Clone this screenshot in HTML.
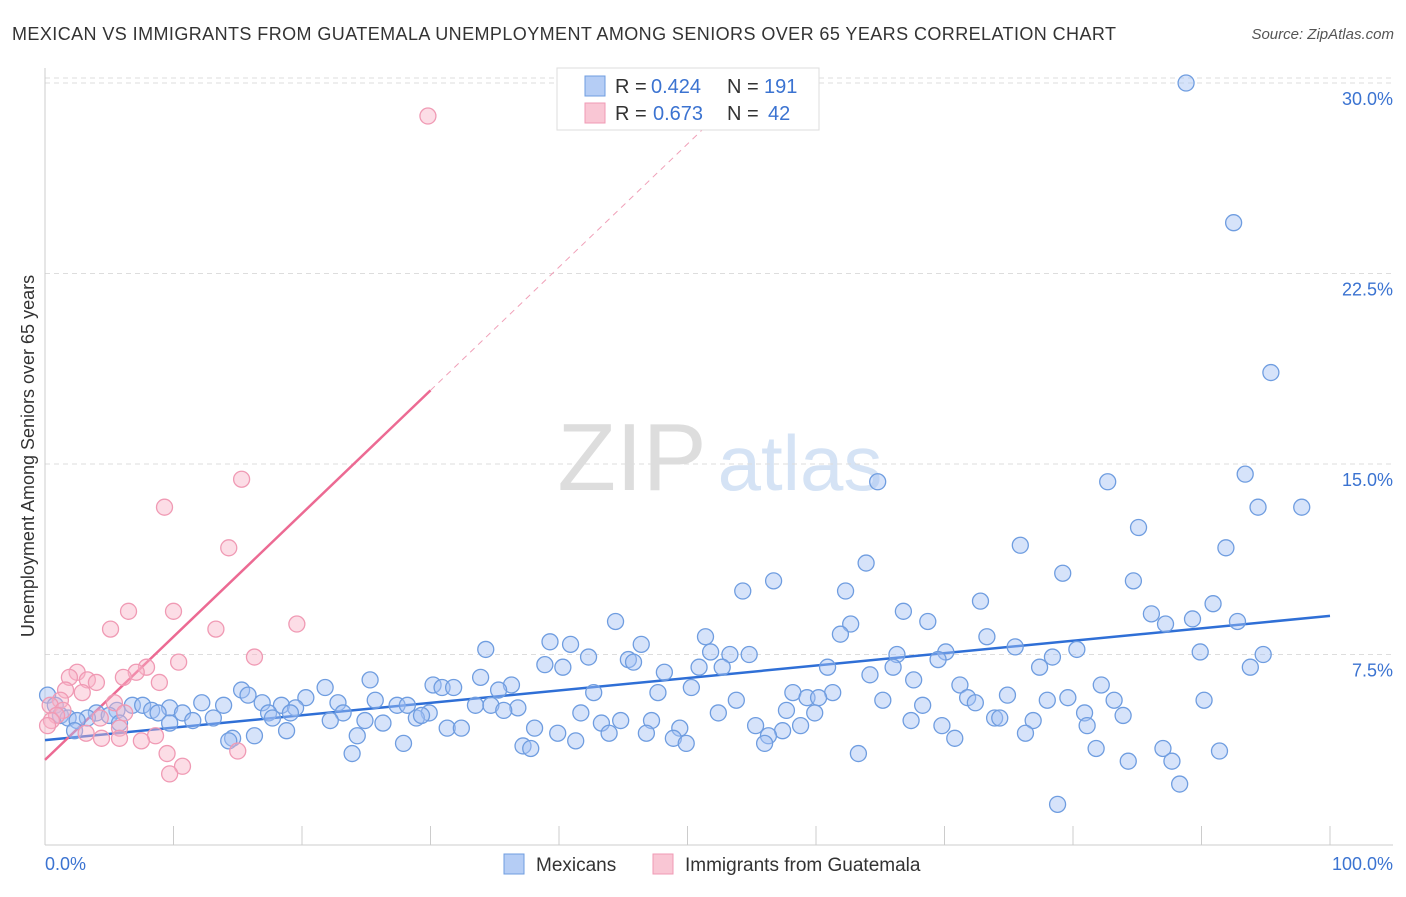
<!DOCTYPE html>
<html><head><meta charset="utf-8"><style>
body{margin:0;background:#fff;font-family:"Liberation Sans",sans-serif}
svg text{font-family:"Liberation Sans",sans-serif}
</style></head><body>
<svg id="chart" width="1406" height="892" xmlns="http://www.w3.org/2000/svg">
<text x="12" y="40" font-size="18" fill="#333" textLength="1104">MEXICAN VS IMMIGRANTS FROM GUATEMALA UNEMPLOYMENT AMONG SENIORS OVER 65 YEARS CORRELATION CHART</text>
<text x="1394" y="39" font-size="15" fill="#555" font-style="italic" text-anchor="end">Source: ZipAtlas.com</text>
<g>
<text x="632" y="490" font-size="96" fill="#ddd" font-family="Liberation Serif" text-anchor="middle">ZIP</text>
<text x="800" y="490" font-size="78" fill="#d5e3f5" text-anchor="middle">atlas</text>
</g>
<g id="grid"></g>
<g id="axes"></g>
<g id="lines"></g>
<g id="pts"></g>
<text transform="translate(34,456) rotate(-90)" font-size="18" fill="#333" text-anchor="middle">Unemployment Among Seniors over 65 years</text>
<g>
<rect x="557" y="68" width="262" height="62" fill="#fff" stroke="#ddd"/>
<rect x="585" y="76" width="20" height="20" fill="#b5cdf5" stroke="#6f9de0"/>
<rect x="585" y="103" width="20" height="20" fill="#f9c6d4" stroke="#f09ab4"/>
<text x="615" y="93" font-size="20" fill="#333">R = <tspan x="651" fill="#3b73d1">0.424</tspan><tspan x="727">N = </tspan><tspan x="764" fill="#3b73d1">191</tspan></text>
<text x="615" y="120" font-size="20" fill="#333">R = <tspan x="653" fill="#3b73d1">0.673</tspan><tspan x="727">N = </tspan><tspan x="768" fill="#3b73d1">42</tspan></text>
</g>
<g>
<rect x="504" y="854" width="20" height="20" fill="#b5cdf5" stroke="#6f9de0"/>
<text x="536" y="871" font-size="19" fill="#333">Mexicans</text>
<rect x="653" y="854" width="20" height="20" fill="#f9c6d4" stroke="#f09ab4"/>
<text x="685" y="871" font-size="19" fill="#333">Immigrants from Guatemala</text>
</g>
</svg>
<script>
const yTicks=[7.5,15,22.5,30];
const yTickLabels=["7.5%","15.0%","22.5%","30.0%"];
const xTicks=[0,10,20,30,40,50,60,70,80,90,100];
const blueX=[88.8,92.5,95.4,93.4,94.4,97.8,64.8,82.7,85.1,75.9,91.9,63.9,79.2,56.7,84.7,54.3,62.3,72.8,90.9,66.8,86.1,89.3,87.2,92.8,68.7,44.4,62.7,61.9,51.4,73.3,39.3,40.9,46.4,75.5,34.3,80.3,89.9,94.8,51.8,53.3,54.8,66.3,70.1,78.4,42.3,45.4,45.8,69.5,93.8,77.4,50.9,38.9,40.3,48.2,60.9,66.0,52.7,64.2,33.9,25.3,67.6,82.2,71.2,21.8,30.2,30.9,31.8,36.3,35.3,50.3,47.7,15.3,15.8,42.7,58.2,61.3,59.3,60.2,71.8,74.9,79.6,20.3,83.2,90.2,78.0,65.2,72.4,53.8,25.7,0.2,16.9,12.2,13.9,18.4,19.5,22.8,27.4,28.2,33.5,34.7,36.8,68.3,6.8,7.6,8.3,9.7,10.7,5.6,4.0,5.0,0.8,1.2,1.8,3.3,8.8,17.4,19.1,23.2,29.9,35.7,41.7,52.4,57.7,59.9,80.9,83.9,17.7,11.5,13.1,9.7,2.5,28.9,29.3,22.2,24.9,26.3,73.9,74.3,76.9,67.4,47.2,43.3,44.8,69.8,81.1,55.3,57.4,58.8,49.4,38.1,31.3,32.4,5.8,2.3,18.8,39.9,46.8,24.3,76.3,43.9,56.3,70.8,16.3,14.6,14.3,48.9,41.3,27.9,49.9,56.0,37.2,37.8,87.0,91.4,81.8,23.9,63.3,87.7,84.3,88.3,78.8];
const blueY=[30.0,24.5,18.6,14.6,13.3,13.3,14.3,14.3,12.5,11.8,11.7,11.1,10.7,10.4,10.4,10.0,10.0,9.6,9.5,9.2,9.1,8.9,8.7,8.8,8.8,8.8,8.7,8.3,8.2,8.2,8.0,7.9,7.9,7.8,7.7,7.7,7.6,7.5,7.6,7.5,7.5,7.5,7.6,7.4,7.4,7.3,7.2,7.3,7.0,7.0,7.0,7.1,7.0,6.8,7.0,7.0,7.0,6.7,6.6,6.5,6.5,6.3,6.3,6.2,6.3,6.2,6.2,6.3,6.1,6.2,6.0,6.1,5.9,6.0,6.0,6.0,5.8,5.8,5.8,5.9,5.8,5.8,5.7,5.7,5.7,5.7,5.6,5.7,5.7,5.9,5.6,5.6,5.5,5.5,5.4,5.6,5.5,5.5,5.5,5.5,5.4,5.5,5.5,5.5,5.3,5.4,5.2,5.3,5.2,5.1,5.5,5.1,5.0,5.0,5.2,5.2,5.2,5.2,5.2,5.3,5.2,5.2,5.3,5.2,5.2,5.1,5.0,4.9,5.0,4.8,4.9,5.0,5.1,4.9,4.9,4.8,5.0,5.0,4.9,4.9,4.9,4.8,4.9,4.7,4.7,4.7,4.5,4.7,4.6,4.6,4.6,4.6,4.8,4.5,4.5,4.4,4.4,4.3,4.4,4.4,4.3,4.2,4.3,4.2,4.1,4.2,4.1,4.0,4.0,4.0,3.9,3.8,3.8,3.7,3.8,3.6,3.6,3.3,3.3,2.4,1.6];
const pinkX=[29.8,15.3,9.3,14.3,6.5,10.0,5.1,13.3,19.6,16.3,10.4,7.9,2.5,7.1,1.9,3.3,4.0,6.1,8.9,1.6,2.9,1.2,5.4,0.4,1.4,0.9,0.5,6.2,4.3,5.8,3.2,4.4,5.8,8.6,7.5,9.5,15.0,10.7,9.7,0.2];
const pinkY=[28.7,14.4,13.3,11.7,9.2,9.2,8.5,8.5,8.7,7.4,7.2,7.0,6.8,6.8,6.6,6.5,6.4,6.6,6.4,6.1,6.0,5.7,5.6,5.5,5.3,5.1,4.9,5.2,5.0,4.6,4.4,4.2,4.2,4.3,4.1,3.6,3.7,3.1,2.8,4.7];
const blueTrend=[4.13,9.02];
const pinkTrend=[3.35,17.9];
const NS="http://www.w3.org/2000/svg";
const X0=45,X1=1330,Y0=845,YPX=25.4;
function sx(v){return X0+(X1-X0)*v/100;}
function sy(v){return Y0-v*YPX;}
function mk(tag,attrs,parent){const e=document.createElementNS(NS,tag);for(const k in attrs)e.setAttribute(k,attrs[k]);document.getElementById(parent).appendChild(e);return e;}
let g=mk('line',{x1:45,x2:1393,y1:78,y2:78,stroke:'#ddd','stroke-dasharray':'5,4'},'grid');


yTicks.forEach((t,i)=>{
 const l=mk('line',{x1:45,x2:1393,y1:sy(t),y2:sy(t),stroke:'#ddd','stroke-dasharray':'5,4'},'grid');
 
 
 const tx=mk('text',{x:1393,y:sy(t)+22,'font-size':18,fill:'#3b73d1','text-anchor':'end'},'grid');
 tx.textContent=yTickLabels[i];
 
 
});
let ax=mk('line',{x1:45,x2:45,y1:68,y2:845,stroke:'#ccc'},'axes');


ax=mk('line',{x1:45,x2:1393,y1:845,y2:845,stroke:'#ccc'},'axes');


xTicks.forEach(t=>{
 const l=mk('line',{x1:sx(t),x2:sx(t),y1:826,y2:845,stroke:'#ccc'},'axes');
 
 
});
let xl=mk('text',{x:45,y:870,'font-size':18,fill:'#3b73d1'},'axes');xl.textContent='0.0%';


xl=mk('text',{x:1393,y:870,'font-size':18,fill:'#3b73d1','text-anchor':'end'},'axes');xl.textContent='100.0%';


blueX.forEach((x,i)=>{
 const c=mk('circle',{cx:sx(x),cy:sy(blueY[i]),r:8,fill:'rgba(164,194,244,0.45)',stroke:'#6f9de0','stroke-width':1.3},'pts');
 
 
});
pinkX.forEach((x,i)=>{
 const c=mk('circle',{cx:sx(x),cy:sy(pinkY[i]),r:8,fill:'rgba(248,180,200,0.45)',stroke:'#f09ab4','stroke-width':1.3},'pts');
 
 
});
let bl=mk('line',{x1:sx(0),y1:sy(blueTrend[0]),x2:sx(100),y2:sy(blueTrend[1]),stroke:'#2f6fd6','stroke-width':2.5},'lines');


const ps=(pinkTrend[1]-pinkTrend[0])/30;
let pl=mk('line',{x1:sx(0),y1:sy(pinkTrend[0]),x2:sx(30),y2:sy(pinkTrend[1]),stroke:'#ec6a93','stroke-width':2.5},'lines');


let pd=mk('line',{x1:sx(30),y1:sy(pinkTrend[1]),x2:sx(52),y2:sy(pinkTrend[0]+ps*52),stroke:'#f0a0b8','stroke-width':1,'stroke-dasharray':'6,5'},'lines');


</script>
</body></html>
